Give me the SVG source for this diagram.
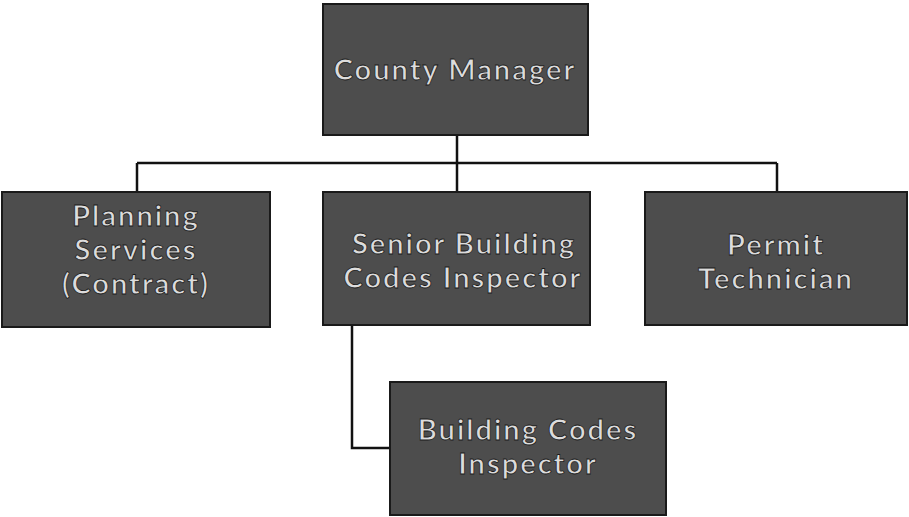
<svg xmlns="http://www.w3.org/2000/svg" width="909" height="517" viewBox="0 0 909 517">
<style>
.box{fill:#4d4d4d;stroke:#1a1a1a;stroke-width:2}
.lbl{font-family:Lato,"Open Sans","Liberation Sans",sans-serif;font-size:29px;font-weight:bold;letter-spacing:2px;fill:#dcdcdc;stroke:#1a1a1a;stroke-width:0.8;text-anchor:middle}
.conn{fill:none;stroke:#111;stroke-width:2.5}
</style>
<rect width="909" height="517" fill="#ffffff"/>
<g id="connectors">
<path class="conn" d="M457 135 V163 M137 163 H777 M137 163 V192 M457 163 V192 M777 163 V192"/>
<path class="conn" d="M352 325 V448 H390"/>
</g>
<g id="county-manager">
<rect class="box" x="323" y="4" width="265" height="131"/>
<text class="lbl" x="455" y="80">County Manager</text>
</g>
<g id="planning-services">
<rect class="box" x="2" y="192" width="268" height="135"/>
<text class="lbl" x="136" y="226">Planning</text>
<text class="lbl" x="136" y="260">Services</text>
<text class="lbl" x="136" y="294">(Contract)</text>
</g>
<g id="senior-building-codes-inspector">
<rect class="box" x="323" y="192" width="267" height="133"/>
<text class="lbl" x="464" y="254">Senior Building</text>
<text class="lbl" x="463" y="288">Codes Inspector</text>
</g>
<g id="permit-technician">
<rect class="box" x="645" y="192" width="262" height="133"/>
<text class="lbl" x="776" y="255">Permit</text>
<text class="lbl" x="776" y="289">Technician</text>
</g>
<g id="building-codes-inspector">
<rect class="box" x="390" y="382" width="276" height="133"/>
<text class="lbl" x="528" y="440">Building Codes</text>
<text class="lbl" x="528" y="474">Inspector</text>
</g>
</svg>
